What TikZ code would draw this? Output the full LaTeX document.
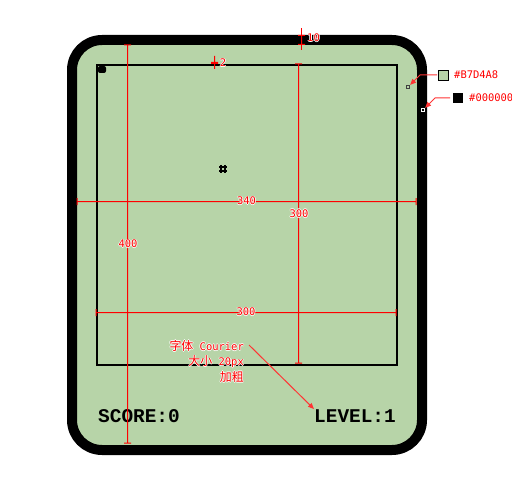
\documentclass[tikz,border=0pt]{standalone}
\usepackage{fontspec}
\setmonofont{Liberation Mono}
\newfontfamily\cjk{Noto Sans CJK SC}
\newfontfamily\dimfont{DejaVu Sans Mono}
\definecolor{screen}{HTML}{B7D4A8}
\definecolor{dimred}{HTML}{FF0000}
\newcommand{\halo}[1]{\leavevmode\rlap{\textcolor{white}{\hspace{-0.8pt}#1}}\rlap{\textcolor{white}{\hspace{0.8pt}#1}}\rlap{\textcolor{white}{\raisebox{0.8pt}{#1}}}\rlap{\textcolor{white}{\raisebox{-0.8pt}{#1}}}#1}
% size marks: vertical and horizontal
\newcommand{\dimv}[3]{\fill[dimred] (#1,#2) rectangle (#1+1,#3) (#1-3,#2-0.5) rectangle (#1+4,#2+0.5) (#1-3,#3-0.5) rectangle (#1+4,#3+0.5);}
\newcommand{\dimh}[3]{\fill[dimred] (#2,#1) rectangle (#3,#1+1) (#2-0.5,#1-3) rectangle (#2+0.5,#1+4) (#3-0.5,#1-3) rectangle (#3+0.5,#1+4);}
\usetikzlibrary{arrows.meta}

\begin{document}
\begin{tikzpicture}[x=1bp,y=-1bp,
    dimlabel/.style={text=dimred,inner sep=0pt,font=\dimfont\fontsize{10.5}{12}\selectfont},
    note/.style={color=dimred!80,line width=1bp,-{Triangle[length=6bp,width=5bp]}},
    hud/.style={inner sep=0pt,font=\ttfamily\bfseries\fontsize{19.5}{22}\selectfont}]
            \useasboundingbox (0,0) rectangle (512,493);
            \draw[line width=10bp,fill=screen,rounded corners=30bp] (72,40) rectangle (422,450);
            \draw[line width=2bp] (97,65) rectangle (397,365);
            \fill[rounded corners=2bp] (98,66) rectangle (106,73);
            \draw[line width=1.8bp] (221,165)--(221,173) (225,165)--(225,173) (219,167)--(227,167) (219,171)--(227,171);
            \node[hud,anchor=base west] (score) at (98,422) {SCORE:0};
            \node[hud,anchor=base east] (level) at (396,422) {LEVEL:1};

            % sizes
            \dimv{127}{45}{443}
            \dimh{201}{77}{416}
            \dimv{298}{64}{363}
            \dimh{312}{96}{396}
            \dimv{301}{35.5}{44.5}
            \fill[dimred] (301,28) rectangle (302,50);
            \fill[dimred] (214,56) rectangle (215,69) (211,62) rectangle (218,64);
            \node[dimlabel] (outerH) at (128,244) {\halo{400}};
            \node[dimlabel] (outerW) at (246.5,201) {\halo{340}};
            \node[dimlabel] (boardH) at (299,213.5) {\halo{300}};
            \node[dimlabel] (boardW) at (246,312) {\halo{300}};
            \node[dimlabel] (border) at (313.5,38) {\halo{10}};
            \node[dimlabel] (lineW) at (223,63) {\halo{2}};

            % colours
            \node[draw,fill=screen,minimum size=10bp,inner sep=0pt,line width=0.8bp] (swGreen) at (443,75) {};
            \node[draw=darkgray,fill=screen,minimum size=3.5bp,inner sep=0pt,line width=0.7bp] (pickGreen) at (408,87) {};
            \draw[note] (437,75)--(420,75)--(pickGreen);
            \node[fill=black,minimum size=10bp,inner sep=0pt] (swBlack) at (458,98) {};
            \node[draw=white,fill=black,minimum size=3.5bp,inner sep=0pt,line width=0.7bp] (pickBlack) at (423,110) {};
            \draw[note] (450,98)--(435,98)--(pickBlack);
            \node[dimlabel,anchor=west] (greenHex) at (454,75) {\#B7D4A8};
            \node[dimlabel,anchor=west] (blackHex) at (469,98) {\#000000};

            % font
            \coordinate (noteStart) at (249,345);
            \draw[note] (noteStart)--(level.north west);
            \node[dimlabel,anchor=east] (noteFace) at (244,346) {\halo{{\cjk\fontsize{12}{14}\selectfont 字体}{\dimfont\ Courier}}};
            \node[dimlabel,anchor=east] (noteSize) at (244,362) {\halo{{\cjk\fontsize{12}{14}\selectfont 大小}{\dimfont\ 20px}}};
            \node[dimlabel,anchor=east] (noteBold) at (244,377) {\halo{\cjk\fontsize{12}{14}\selectfont 加粗}};
        \end{tikzpicture}
\end{document}
